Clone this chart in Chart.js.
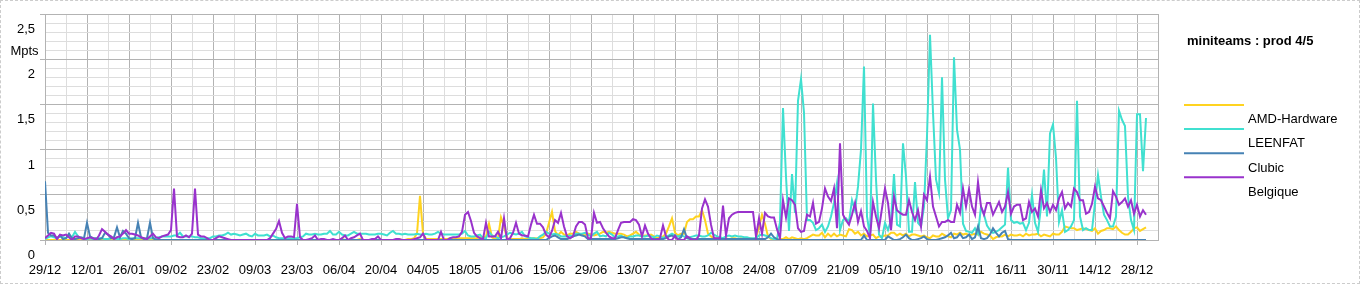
<!DOCTYPE html>
<html>
<head>
<meta charset="utf-8">
<title>miniteams : prod 4/5</title>
<script src="https://cdn.jsdelivr.net/npm/chart.js@4.4.1/dist/chart.umd.min.js"></script>
<style>
  html, body { margin: 0; padding: 0; background: #fff; }
  #wrap { position: relative; width: 1360px; height: 284px; }
  #frame { position: absolute; left: 0; top: 0; width: 1360px; height: 284px; box-sizing: border-box; border: 1px dashed #cccccc; pointer-events: none; }
</style>
</head>
<body>
<div id="wrap">
  <canvas id="prodChart"></canvas>
  <div id="frame"></div>
</div>
<script>
// miniteams production, Mpts per day, from 29/12 (one value per day)
var chartTitle = 'miniteams : prod 4/5';
var unitLabel = 'Mpts';
var seriesNames = ['AMD-Hardware', 'LEENFAT', 'Clubic', 'Belgique'];
var seriesColors = ['#ffd320', '#40e0d0', '#4682b4', '#9932cc'];
var xTickLabels = ['29/12','12/01','26/01','09/02','23/02','09/03','23/03','06/04','20/04','04/05',
  '18/05','01/06','15/06','29/06','13/07','27/07','10/08','24/08','07/09','21/09',
  '05/10','19/10','02/11','16/11','30/11','14/12','28/12'];
var yTickLabels = ['0', '0,5', '1', '1,5', '2', '2,5'];

var amdHardware = [
  0,0,0,0,0,0,0,0,0,0,
  0,0,0,0,0,0,0,0,0,0,
  0,0,0,0,0,0,0,0,0,0,
  0,0,0,0,0,0,0,0,0,0,
  0,0,0,0,0,0,0,0,0,0,
  0,0,0,0,0,0,0,0,0,0,
  0,0,0,0,0,0,0,0,0,0,
  0,0,0,0,0,0,0,0,0,0,
  0,0,0,0,0,0,0,0,0,0,
  0,0,0,0,0,0,0,0,0,0.01,
  0,0,0,0,0,0.01,0,0,0,0,
  0,0,0,0,0,0,0,0,0.01,0,
  0,0.01,0.01,0.02,0.07,0.49,0.07,0.01,0.01,0.01,
  0.01,0.01,0.01,0.01,0.01,0.02,0.02,0.02,0.02,0.02,
  0.02,0.02,0.02,0.02,0.02,0.03,0.03,0.04,0.18,0.03,
  0.01,0.02,0.25,0.15,0.02,0.01,0.01,0.01,0.01,0.02,
  0.01,0.01,0.02,0.02,0.02,0.02,0.03,0.07,0.19,0.31,
  0.1,0.05,0.09,0.06,0.05,0.07,0.07,0.09,0.07,0.06,
  0.05,0.07,0.06,0.05,0.06,0.07,0.09,0.08,0.09,0.08,
  0.07,0.07,0.07,0.06,0.04,0.05,0.07,0.09,0.06,0.04,
  0.05,0.05,0.06,0.04,0.02,0.03,0.04,0.07,0.15,0.24,
  0.08,0.05,0.07,0.07,0.2,0.23,0.23,0.26,0.26,0.33,
  0.22,0.07,0.04,0.02,0.02,0.01,0.02,0.02,0.01,0.02,
  0.02,0.01,0.02,0.01,0.02,0.02,0.01,0.02,0.15,0.28,
  0.18,0.04,0.01,0,0,0.01,0.01,0.03,0.01,0.03,
  0.02,0.01,0.02,0.01,0.02,0.04,0.06,0.05,0.05,0.08,
  0.03,0.07,0.04,0.07,0.04,0.06,0.05,0.04,0.12,0.11,
  0.07,0.09,0.05,0.07,0.04,0.05,0.06,0.02,0.04,0.04,
  0.05,0.05,0.08,0.08,0.05,0.07,0.05,0.07,0.04,0.06,
  0.06,0.05,0.04,0.05,0.03,0.02,0.05,0.04,0.04,0.07,
  0.05,0.04,0.03,0.07,0.06,0.08,0.06,0.07,0.05,0.06,
  0.07,0.06,0.09,0.07,0.06,0.05,0.01,0.03,0.04,0.04,
  0.06,0.04,0.06,0.05,0.05,0.06,0.04,0.07,0.05,0.06,
  0.06,0.07,0.04,0.06,0.05,0.04,0.07,0.06,0.06,0.09,
  0.15,0.14,0.13,0.13,0.11,0.12,0.13,0.12,0.11,0.1,
  0.13,0.07,0.1,0.11,0.13,0.13,0.12,0.15,0.11,0.08,
  0.06,0.06,0.09,0.13,0.14,0.1,0.12,0.14
];

var leenfat = [
  0.01,0.03,0.04,0.03,0.02,0.04,0.03,0.02,0.05,0.03,
  0.09,0.04,0.02,0.01,0.01,0.02,0.01,0.01,0.02,0.02,
  0.01,0.01,0.02,0.02,0.01,0.01,0.02,0.02,0.01,0.02,
  0.02,0.02,0.02,0.02,0.01,0.02,0.02,0.02,0.03,0.04,
  0.04,0.04,0.04,0.05,0.05,0.08,0.04,0.04,0.04,0.04,
  0.03,0.03,0.02,0.02,0.02,0.02,0.04,0.04,0.05,0.05,
  0.06,0.08,0.06,0.07,0.06,0.05,0.06,0.07,0.05,0.04,
  0.07,0.05,0.05,0.05,0.06,0.04,0.05,0.03,0.02,0.02,
  0.02,0.02,0.02,0.02,0.02,0.03,0.04,0.07,0.06,0.06,
  0.07,0.06,0.06,0.07,0.07,0.1,0.06,0.06,0.09,0.06,
  0.05,0.05,0.07,0.09,0.07,0.07,0.07,0.07,0.06,0.06,
  0.06,0.07,0.07,0.06,0.05,0.08,0.1,0.07,0.07,0.06,
  0.07,0.06,0.06,0.06,0.07,0.06,0.06,0.07,0.06,0.06,
  0.07,0.09,0.07,0.06,0.06,0.06,0.06,0.06,0.06,0.07,
  0.1,0.05,0.04,0.04,0.05,0.06,0.02,0.02,0.09,0.05,
  0.04,0.02,0.03,0.04,0.06,0.08,0.07,0.06,0.07,0.09,
  0.04,0.03,0.02,0.02,0.01,0.04,0.06,0.09,0.07,0.06,
  0.07,0.06,0.04,0.04,0.04,0.05,0.04,0.07,0.07,0.07,
  0.08,0.06,0.04,0.07,0.09,0.04,0.05,0.04,0.08,0.06,
  0.03,0.04,0.05,0.03,0.02,0.04,0.04,0.05,0.05,0.04,
  0.04,0.05,0.04,0.03,0.05,0.04,0.02,0.04,0.05,0.07,
  0.05,0.04,0.05,0.04,0.02,0.03,0.04,0.05,0.05,0.04,
  0.04,0.05,0.08,0.06,0.04,0.03,0.02,0.04,0.05,0.04,
  0.05,0.04,0.04,0.03,0.03,0.02,0.02,0.02,0.05,0.06,
  0.05,0.04,0.02,0.01,0.01,0.2,1.46,0.7,0.1,0.73,
  0.3,1.54,1.78,1.41,0.22,0.22,0.19,0.11,0.13,0.17,
  0.09,0.15,0.26,0.41,0.63,0.11,0.22,0.24,0.2,0.44,
  0.33,0.59,1.0,1.92,0.26,0.04,1.51,0.67,0.06,0.02,
  0.19,0.11,0.22,0.73,0.17,0.15,1.07,0.7,0.09,0.09,
  0.64,0.19,0.15,0.37,1.15,2.27,1.41,0.67,0.52,1.8,
  0.67,0.24,0.33,2.02,1.22,1.0,0.18,0.1,0.09,0.08,
  0.13,0.07,0.37,0.28,0.16,0.11,0.08,0.09,0.11,0.14,
  0.17,0.8,0.22,0.19,0.2,0.18,0.19,0.11,0.19,0.5,
  0.19,0.09,0.37,0.78,0.26,1.18,1.28,0.91,0.2,0.33,
  0.09,0.11,0.15,0.22,1.54,0.26,0.11,0.13,0.11,0.11,
  0.41,0.72,0.48,0.28,0.22,0.15,0.15,0.26,1.43,1.33,
  1.26,0.48,0.22,0.11,1.39,1.39,0.76,1.35
];

var clubic = [
  0.65,0.08,0.05,0.05,0.02,0.05,0.01,0.02,0.07,0.02,
  0.01,0.02,0.03,0.02,0.19,0.04,0.02,0.02,0.01,0.02,
  0.08,0.06,0.02,0.03,0.14,0.03,0.1,0.07,0.02,0.01,
  0.02,0.19,0.03,0.01,0.02,0.19,0.02,0,0,0,
  0,0,0,0,0,0,0,0,0,0,
  0,0,0,0,0,0,0,0,0,0,
  0,0,0,0,0,0,0,0,0,0,
  0,0,0,0,0,0,0,0,0,0,
  0,0,0,0,0,0,0,0,0,0,
  0,0,0,0,0,0,0,0,0,0,
  0,0,0,0,0,0,0,0,0,0,
  0,0,0,0,0,0,0,0,0,0,
  0,0,0,0,0,0,0,0,0,0,
  0,0,0,0,0,0,0,0,0,0,
  0,0,0,0,0,0,0,0,0,0,
  0,0,0,0,0,0,0,0,0,0,
  0,0,0,0,0,0,0,0,0.02,0.04,
  0.05,0.03,0.01,0.01,0.01,0.02,0.04,0.05,0.06,0.05,
  0.04,0.01,0.01,0.01,0.01,0.01,0.01,0.01,0.01,0.01,
  0.01,0.02,0.03,0.03,0.02,0.01,0.01,0.01,0.01,0.01,
  0.01,0.01,0.01,0.01,0.01,0.01,0.01,0.02,0.04,0.05,
  0.03,0.01,0.03,0.12,0.02,0.01,0.01,0.01,0.01,0.01,
  0.01,0.01,0.01,0.01,0.01,0.01,0.01,0.01,0.01,0.01,
  0.01,0.01,0.01,0.01,0.01,0.01,0.01,0.01,0.01,0.01,
  0.01,0.03,0.07,0.03,0.01,0,0,0,0,0,
  0,0,0,0,0,0,0,0,0,0,
  0,0,0,0,0,0,0,0,0,0,
  0,0,0,0.05,0,0,0,0,0,0,
  0,0.04,0.02,0,0,0.01,0.03,0.06,0.02,0,
  0,0.01,0.02,0.04,0.01,0,0,0,0.01,0.02,
  0.03,0.05,0.08,0.02,0.03,0.07,0.02,0.03,0.06,0.01,
  0.03,0.15,0.02,0.01,0.02,0.06,0.13,0.08,0.04,0.08,
  0.1,0.01,0,0,0,0,0,0,0,0,
  0,0,0,0,0,0,0,0,0,0,
  0,0,0,0,0,0,0,0,0,0,
  0,0,0,0,0,0,0,0,0,0,
  0,0,0,0,0,0,0,0
];

var belgique = [
  0.02,0.05,0.08,0.07,0.01,0.06,0.05,0.06,0.03,0,
  0.04,0.04,0.02,0.01,0.02,0.03,0.02,0,0.05,0.12,
  0.09,0.06,0.04,0.01,0.03,0.04,0.07,0.11,0.07,0.07,
  0.06,0.05,0.03,0.02,0.01,0.04,0.07,0.03,0.02,0.04,
  0.05,0.06,0.11,0.57,0.04,0.03,0.03,0.05,0.03,0.07,
  0.57,0.06,0.04,0.04,0.02,0,0,0.02,0.04,0.03,
  0.02,0.01,0,0,0,0,0,0,0,0,
  0,0,0,0,0,0.02,0.07,0.12,0.21,0.08,
  0.02,0.04,0.04,0.03,0.4,0.03,0,0,0.01,0.02,
  0.05,0,0.01,0.01,0,0,0.01,0,0,0.02,
  0.05,0,0.02,0.03,0.05,0.07,0,0,0,0.01,
  0.01,0.04,0,0,0,0,0,0.01,0.01,0,
  0,0,0,0.01,0.02,0.03,0.07,0,0,0,
  0,0,0.09,0,0,0.02,0.03,0.03,0.04,0.09,
  0.28,0.31,0.21,0.08,0.04,0.02,0.01,0.19,0.04,0.04,
  0.04,0.09,0.02,0.24,0,0.02,0.08,0.19,0.07,0.05,
  0.05,0.04,0.17,0.28,0.18,0.18,0.14,0.06,0.03,0.1,
  0.22,0.19,0.3,0.15,0.04,0.02,0.04,0.15,0.2,0.2,
  0.17,0.02,0.02,0.3,0.19,0.2,0.13,0.08,0.04,0.02,
  0.02,0.11,0.19,0.2,0.2,0.2,0.23,0.22,0.17,0.04,
  0.16,0.07,0.02,0,0,0.02,0.16,0.04,0,0,
  0.05,0,0,0,0.04,0.02,0,0,0.05,0.35,
  0.45,0.37,0.17,0.02,0.02,0.02,0.38,0.05,0.24,0.28,
  0.3,0.31,0.31,0.31,0.31,0.31,0.31,0.04,0.24,0.07,
  0.3,0.26,0.25,0.25,0.12,0.02,0.44,0.25,0.46,0.44,
  0.39,0.13,0.09,0.1,0.28,0.26,0.41,0.18,0.2,0.35,
  0.57,0.48,0.43,0.57,0.13,1.07,0.28,0.22,0.17,0.28,
  0.41,0.2,0.32,0.15,0.1,0.02,0.42,0.26,0.13,0.35,
  0.57,0.41,0.11,0.48,0.33,0.3,0.28,0.28,0.44,0.31,
  0.22,0.33,0.15,0.5,0.44,0.7,0.37,0.26,0.15,0.2,
  0.2,0.22,0.2,0.2,0.39,0.3,0.57,0.37,0.56,0.37,
  0.28,0.64,0.37,0.28,0.41,0.41,0.28,0.35,0.42,0.31,
  0.37,0.53,0.29,0.37,0.39,0.39,0.22,0.24,0.42,0.31,
  0.35,0.26,0.55,0.35,0.41,0.31,0.39,0.33,0.46,0.53,
  0.35,0.41,0.37,0.57,0.53,0.44,0.44,0.29,0.31,0.4,
  0.59,0.46,0.44,0.37,0.3,0.24,0.54,0.48,0.39,0.42,
  0.46,0.37,0.44,0.29,0.39,0.26,0.33,0.28
];

var seriesValues = [amdHardware, leenfat, clubic, belgique];

var FONT = '"Liberation Sans", Arial, sans-serif';
var MAJOR_GRID = '#b3b3b3';
var MINOR_GRID = '#dddddd';

Chart.defaults.font.family = FONT;
Chart.defaults.font.size = 13;
Chart.defaults.color = '#000';

function isMajorX(v) { return v % 14 === 0 || v === 371; }
function isMajorY(v) { return Math.round(v * 10) % 5 === 0; }

// title, unit and the offset legend drawn beside the plot
var sideLegend = {
  id: 'sideLegend',
  afterDraw: function (chart) {
    var ctx = chart.ctx;
    ctx.save();
    ctx.fillStyle = '#000';
    ctx.textBaseline = 'middle';
    ctx.textAlign = 'center';
    ctx.font = '13px ' + FONT;
    ctx.fillText(unitLabel, 24.5, 51.5);
    ctx.textAlign = 'left';
    ctx.font = 'bold 13px ' + FONT;
    ctx.fillText(chartTitle, 1187, 41.5);
    ctx.font = '13px ' + FONT;
    chart.data.datasets.forEach(function (ds, i) {
      var y = 105 + i * 24.1;
      ctx.strokeStyle = ds.borderColor;
      ctx.lineWidth = 2;
      ctx.beginPath();
      ctx.moveTo(1184, y);
      ctx.lineTo(1244, y);
      ctx.stroke();
      ctx.fillText(ds.label, 1248, 119.5 + i * 24.4);
    });
    ctx.restore();
  }
};

var datasets = seriesNames.map(function (name, s) {
  return {
    label: name,
    data: seriesValues[s].map(function (v, i) { return { x: i, y: v }; }),
    borderColor: seriesColors[s],
    backgroundColor: seriesColors[s],
    borderWidth: 2,
    pointRadius: 0,
    tension: 0,
    fill: false,
    order: seriesNames.length - 1 - s
  };
});

new Chart(document.getElementById('prodChart').getContext('2d'), {
  type: 'line',
  data: { datasets: datasets },
  options: {
    responsive: true,
    maintainAspectRatio: false,
    animation: false,
    events: [],
    layout: { padding: { left: 0, top: 14, right: 202, bottom: 0 } },
    plugins: {
      legend: { display: false },
      tooltip: { enabled: false },
      title: { display: false }
    },
    scales: {
      x: {
        type: 'linear',
        min: 0,
        max: 371,
        afterFit: function (scale) { scale.height = 44; },
        ticks: {
          stepSize: 7,
          autoSkip: false,
          maxRotation: 0,
          minRotation: 0,
          padding: 18,
          color: '#000',
          callback: function (value) { return value % 14 === 0 ? xTickLabels[value / 14] : ''; }
        },
        grid: {
          color: function (c) { return isMajorX(c.tick.value) ? MAJOR_GRID : MINOR_GRID; },
          tickColor: function (c) { return c.tick.value % 14 === 0 ? MAJOR_GRID : 'rgba(0,0,0,0)'; },
          tickLength: 5
        },
        border: { color: MAJOR_GRID }
      },
      y: {
        min: 0,
        max: 2.5,
        afterFit: function (scale) { scale.width = 45; },
        ticks: {
          stepSize: 0.1,
          autoSkip: false,
          padding: 5,
          labelOffset: 15.5,
          color: '#000',
          callback: function (value) { return isMajorY(value) ? yTickLabels[Math.round(value * 2)] : ''; }
        },
        grid: {
          color: function (c) { return isMajorY(c.tick.value) ? MAJOR_GRID : MINOR_GRID; },
          tickColor: function (c) { return isMajorY(c.tick.value) ? MAJOR_GRID : 'rgba(0,0,0,0)'; },
          tickLength: 5
        },
        border: { color: MAJOR_GRID }
      }
    }
  },
  plugins: [sideLegend]
});
</script>
</body>
</html>
